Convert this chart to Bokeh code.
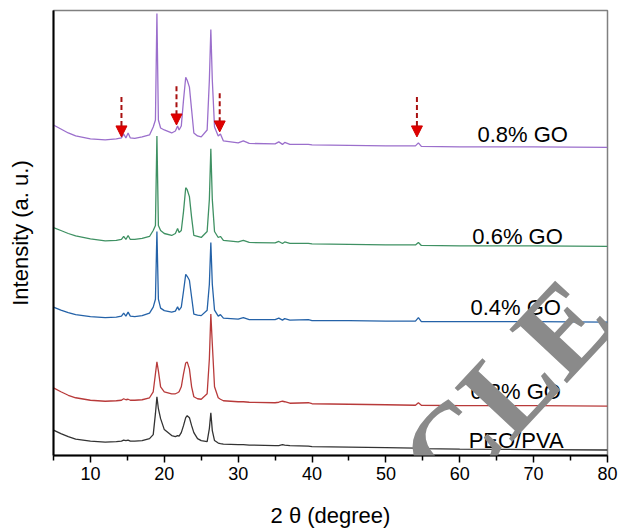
from bokeh.plotting import figure
from bokeh.models import Range1d, FixedTicker, Label, Arrow, NormalHead
from bokeh.core.properties import value
from bokeh.embed import file_html
from bokeh.resources import INLINE

# 2-theta grid (degrees)
theta = [5, 6, 7, 8, 10, 12, 13.5, 14.2, 14.5, 14.8,
         15.1, 15.4, 16, 17, 18, 18.5, 18.8, 19.0, 19.2, 19.5,
         20, 21, 21.5, 21.8, 22.0, 22.3, 22.6, 22.9, 23.1, 23.4,
         23.7, 24.0, 24.5, 25.0, 25.8, 26.1, 26.3, 26.5, 26.8, 27.3,
         27.6, 28, 30, 30.7, 31.5, 35, 35.5, 36, 36.3, 37,
         39.5, 40, 45, 50, 54, 54.4, 54.8, 60, 70, 80]

# stacked intensities (a. u.)
peo_pva = [25.5, 22, 19, 16.5, 14.5, 13.5, 14, 14.5, 15.5, 15,
           15.5, 14.5, 14.5, 15, 17, 21, 42, 59, 47, 37,
           26, 20, 19, 20, 19.5, 23, 30, 38, 40, 38,
           30, 23, 17, 15, 14, 27, 43, 25, 15, 12.5,
           12, 11.5, 11, 11, 10.5, 10, 10, 11, 10.5, 10,
           9.5, 9, 8.5, 8, 7.5, 8.5, 7, 6.5, 6, 5.5]
go_02 = [68, 64, 60.5, 58, 55.5, 54.5, 55, 55.5, 57, 56,
         56.5, 55.5, 55.5, 56, 58, 64, 82, 94, 85, 69,
         64, 62, 62, 63, 64, 69, 82, 93, 94, 87,
         69, 59, 57, 56.5, 62, 97, 142, 112, 69, 58,
         56.5, 55, 54, 54, 53.5, 53, 53.5, 54.5, 54, 52.5,
         53, 52, 51.5, 51, 50.5, 53, 50.5, 50, 50, 49.5]
go_04 = [149, 146, 143.5, 141.5, 139.5, 138.5, 139, 140, 143, 140,
         144, 140, 139.5, 140.5, 143, 149, 157, 225, 157, 148,
         145.5, 144, 145, 149.5, 146, 149, 165, 182, 180, 176,
         159, 142, 141, 140.5, 146, 172, 214, 172, 146, 140,
         141.5, 138, 137, 138.5, 136.5, 136.5, 138, 136, 137.5, 136,
         136.5, 135.5, 135.5, 135, 135, 138.5, 134.5, 134.5, 134.5, 134]
go_06 = [229, 226, 223, 220.5, 217.5, 215.5, 216, 217, 220, 217,
         221, 217, 217, 218, 220, 226, 231, 321, 231, 226,
         223, 221, 223, 228, 224, 226, 245, 269, 267, 260,
         239, 221, 220, 219, 225, 257, 308, 257, 225, 219,
         220, 216, 214.5, 216, 214, 213.5, 215, 213, 214.5, 213,
         213, 212.5, 212, 211.5, 211.5, 214, 211, 210.5, 210.5, 210]
go_08 = [332, 328, 324, 321, 318, 317, 318, 319, 323, 319,
         324, 319, 318.5, 320, 322, 330, 337, 444, 337, 329,
         327, 324, 326, 331, 327, 331, 357, 380, 377, 370,
         347, 324, 321, 320, 327, 377, 428, 377, 330, 321,
         323, 316, 314, 316, 313.5, 313, 315, 312.5, 314.5, 312.5,
         312.5, 312, 311.5, 311, 311, 314, 310.5, 310, 310, 309.5]

series = [peo_pva, go_02, go_04, go_06, go_08]
series_names = ["PEO/PVA", "0.2% GO", "0.4% GO", "0.6% GO", "0.8% GO"]
series_colors = ["#333333", "#b83a3a", "#2462a8", "#3f9163", "#9b6fcc"]
label_theta = [61.2, 61.45, 61.45, 61.7, 62.4]
label_y = [15, 64, 149, 220, 322]

# GO reflections marked with arrows on the 0.8% GO pattern
arrow_theta = [14.2, 21.65, 27.5, 54.2]
arrow_top = [360, 371, 364, 360]
arrow_tip = [320, 332, 325, 320]

x_ticks = [10, 20, 30, 40, 50, 60, 70, 80]
x_minor = [5, 15, 25, 35, 45, 55, 65, 75]

p = figure(width=618, height=530, output_backend="svg", toolbar_location=None,
           x_range=Range1d(5, 80), y_range=Range1d(0, 447),
           min_border_left=53, min_border_right=11, min_border_top=10,
           min_border_bottom=73)
p.background_fill_color = "white"
p.border_fill_color = "white"
p.grid.visible = False
p.outline_line_color = "#808080"
p.outline_line_width = 1.5

for ys, c in zip(series, series_colors):
    p.line(theta, ys, line_color=c, line_width=1.3)

p.text(x=label_theta, y=label_y, text=series_names, text_align="left",
       text_baseline="middle", text_font=value("Liberation Sans"),
       text_font_size="22px", text_color="black")

for xa, yt, yb in zip(arrow_theta, arrow_top, arrow_tip):
    p.add_layout(Arrow(x_start=xa, y_start=yt, x_end=xa, y_end=yb,
                       line_color="#a81010", line_width=2, line_dash="5 3",
                       end=NormalHead(size=11, fill_color="#e00000",
                                      line_color="#d00000", line_width=1)))

xa = p.xaxis[0]
xa.ticker = FixedTicker(ticks=x_ticks, minor_ticks=x_minor)
xa.axis_line_color = "black"
xa.axis_line_width = 2
xa.major_tick_line_color = "black"
xa.major_tick_line_width = 1.5
xa.major_tick_out = 7
xa.major_tick_in = 0
xa.minor_tick_line_color = "black"
xa.minor_tick_line_width = 1.5
xa.minor_tick_out = 5
xa.minor_tick_in = 0
xa.major_label_text_font = "Liberation Sans"
xa.major_label_text_font_size = "18px"
xa.major_label_text_color = "black"
xa.major_label_standoff = 4
xa.axis_label = "2 θ (degree)"
xa.axis_label_text_font = "Liberation Sans"
xa.axis_label_text_font_size = "22px"
xa.axis_label_text_font_style = "normal"
xa.axis_label_text_color = "black"
xa.axis_label_standoff = 20

ya = p.yaxis[0]
ya.ticker = FixedTicker(ticks=[])
ya.axis_line_color = "black"
ya.axis_line_width = 2
ya.major_tick_line_color = None
ya.minor_tick_line_color = None
ya.major_label_text_font_size = "0px"
ya.axis_label = "Intensity (a. u.)"
ya.axis_label_text_font = "Liberation Sans"
ya.axis_label_text_font_size = "22px"
ya.axis_label_text_font_style = "normal"
ya.axis_label_text_color = "black"
ya.axis_label_standoff = 21

# watermark overlaid on the published figure (canvas pixels)
p.add_layout(Label(x=590, y=298, x_units="canvas", y_units="canvas",
                   text="ARTICLE", angle=0.82,
                   text_align="right", text_baseline="middle",
                   text_font="Liberation Serif", text_font_style="bold",
                   text_font_size="120px", text_color="#8a8a8a"))

open("out.html", "w").write(file_html(p, INLINE))
